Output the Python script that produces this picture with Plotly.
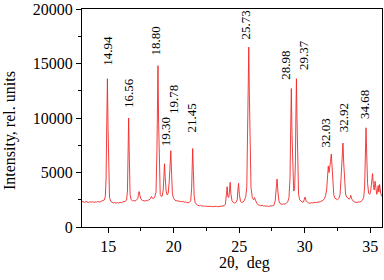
import plotly.graph_objects as go

# XRD pattern (2theta in deg, intensity in rel. units)
two_theta = [
    13.0, 13.1, 13.2, 13.3, 13.4, 13.5, 13.6, 13.7, 13.8, 13.9, 14.0, 14.1, 14.2, 14.3, 14.4, 14.5, 14.6, 14.7, 14.78,
    14.84, 14.89, 14.94, 14.99, 15.04, 15.1, 15.2,
    15.3, 15.4, 15.5, 15.6, 15.7, 15.8, 15.9, 16.0, 16.1, 16.2, 16.3, 16.4, 16.47,
    16.52, 16.56, 16.61, 16.67, 16.75,
    16.85, 16.95, 17.05, 17.15, 17.25, 17.31, 17.36, 17.42, 17.5, 17.6, 17.7, 17.8, 17.9, 18.0, 18.1, 18.2, 18.25, 18.3, 18.36, 18.45, 18.55, 18.65,
    18.72, 18.76, 18.80, 18.85, 18.9, 18.97, 19.05, 19.13, 19.2, 19.25, 19.30, 19.35, 19.42, 19.5, 19.58, 19.66, 19.72, 19.78, 19.84, 19.9, 19.98,
    20.1, 20.2, 20.3, 20.4, 20.5, 20.6, 20.7, 20.8, 20.9, 21.0, 21.1, 21.2, 21.3, 21.37,
    21.41, 21.45, 21.5, 21.56, 21.64,
    21.75, 21.85, 21.95, 22.05, 22.15, 22.25, 22.35, 22.45, 22.55, 22.65, 22.75, 22.85, 22.95, 23.05, 23.15, 23.25, 23.35, 23.45, 23.55, 23.65, 23.75, 23.85, 23.95,
    24.03, 24.08, 24.13, 24.2, 24.26, 24.31, 24.37, 24.45, 24.55, 24.65, 24.75, 24.85, 24.9, 24.95, 25.01, 25.1, 25.2, 25.3, 25.4, 25.5,
    25.58, 25.64, 25.69, 25.73, 25.77, 25.82, 25.9, 26.0, 26.1, 26.17, 26.25, 26.35,
    26.45, 26.55, 26.65, 26.75, 26.85, 26.95, 27.05, 27.15, 27.25, 27.35, 27.45, 27.55, 27.65, 27.75, 27.83, 27.89, 27.95, 28.03, 28.12,
    28.2, 28.3, 28.4, 28.5, 28.6, 28.7, 28.8, 28.88, 28.93, 28.98, 29.03, 29.09, 29.16, 29.23, 29.29, 29.33, 29.37, 29.41, 29.46, 29.53, 29.62,
    29.7, 29.8, 29.9, 29.97, 30.03, 30.1, 30.2, 30.3, 30.4, 30.5, 30.6, 30.7, 30.8, 30.9, 31.0, 31.1, 31.2, 31.3, 31.4, 31.5, 31.6,
    31.68, 31.75, 31.8, 31.86, 31.92, 31.97, 32.03, 32.08, 32.14, 32.22, 32.3, 32.4, 32.5, 32.6, 32.7, 32.78, 32.85, 32.92, 32.98, 33.05, 33.12,
    33.2, 33.3, 33.4, 33.47, 33.52, 33.58, 33.68, 33.8, 33.9, 34.0, 34.1, 34.2, 34.3, 34.4, 34.5, 34.57, 34.63, 34.68, 34.73, 34.8, 34.88,
    34.96, 35.04, 35.12, 35.18, 35.24, 35.3, 35.37, 35.43, 35.5, 35.56, 35.61, 35.66, 35.72, 35.8, 35.9,
]
intensity = [
    2350, 2300, 2270, 2330, 2290, 2250, 2310, 2270, 2320, 2260, 2300, 2280, 2340, 2290, 2320, 2360, 2400, 2480, 2800,
    4500, 9500, 13600, 9000, 4200, 2700, 2350,
    2250, 2200, 2260, 2180, 2240, 2200, 2260, 2230, 2290, 2300, 2360, 2450, 3300,
    7000, 10000, 6500, 3000, 2500,
    2400, 2430, 2380, 2460, 2600, 2950, 3250, 2900, 2550, 2450, 2420, 2380, 2440, 2400, 2480, 2560, 2700, 2800, 2650, 2600, 2750, 3200,
    7000, 11500, 14800, 9500, 4500, 3000, 2800, 2850, 3400, 4700, 5800, 4600, 3300, 2950, 3100, 4200, 5600, 7000, 4800, 3100, 2650,
    2450, 2420, 2380, 2400, 2350, 2320, 2360, 2280, 2300, 2250, 2220, 2260, 2400, 3600,
    5800, 7200, 5200, 2900, 2200,
    2050, 1980, 1950, 1990, 1920, 1940, 1890, 1930, 1880, 1910, 1870, 1900, 1860, 1890, 1870, 1900, 1860, 1880, 1870, 1900, 1880, 1950, 2100,
    2800, 3700, 2800, 2700, 3300, 4100, 3000, 2400, 2250, 2200, 2250, 2500, 3400, 4000, 3000, 2350, 2250, 2300, 2450, 2800,
    3700, 7500, 13000, 16500, 12500, 6500, 3600, 2700, 2500, 2700, 2350, 2150,
    2050, 1980, 1950, 1990, 1930, 1950, 1900, 1940, 1880, 1920, 1900, 1950, 2000, 2400, 3600, 4400, 3300, 2400, 2150,
    2100, 2080, 2120, 2100, 2180, 2300, 2700, 4500, 9000, 12700, 8500, 4200, 3300, 3500, 6000, 10500, 13600, 10000, 5500, 3000, 2500,
    2350, 2280, 2300, 2500, 2750, 2400, 2250, 2200, 2180, 2230, 2200, 2260, 2240, 2280, 2250, 2300, 2320, 2380, 2450, 2600, 2900,
    3500, 4600, 5600, 5000, 5400, 6000, 6700, 5400, 3800, 2950, 2650, 2550, 2500, 2600, 3000, 4600, 6500, 7700, 5800, 3800, 3000,
    2750, 2600, 2550, 2700, 2900, 2600, 2400, 2300, 2280, 2250, 2300, 2280, 2350, 2450, 2700, 3600, 6500, 9100, 6800, 4000, 3100,
    3000, 3300, 4400, 4900, 3900, 3400, 4200, 3600, 3000, 3400, 3800, 3200, 3900, 3100, 2800,
]

# Peak labels
peak_labels = ["14.94", "16.56", "18.80", "19.30", "19.78", "21.45",
               "25.73", "28.98", "29.37", "32.03", "32.92", "34.68"]
label_x = [14.98, 16.55, 18.65, 19.36, 20.0, 21.37,
           25.47, 28.52, 29.85, 31.57, 32.96, 34.62]
label_y = [14600, 10700, 15500, 7200, 10200, 8500,
           17000, 13300, 14200, 7100, 8500, 9700]

x_ticks = [15, 20, 25, 30, 35]
y_ticks = [0, 5000, 10000, 15000, 20000]

FONT = "Liberation Serif, Times New Roman, serif"

fig = go.Figure()
fig.add_trace(go.Scatter(
    x=two_theta, y=intensity, mode="lines",
    line=dict(color="#f02828", width=0.9),
    hoverinfo="skip", showlegend=False,
))

for t, lx, ly in zip(peak_labels, label_x, label_y):
    fig.add_annotation(
        x=lx, y=ly, xref="x", yref="y", text=t, textangle=-90,
        showarrow=False, xanchor="center", yanchor="bottom",
        font=dict(family=FONT, size=13, color="black"),
    )

fig.add_annotation(
    x=0.54, y=-0.165, xref="paper", yref="paper", text="2θ,\u00a0 deg",
    showarrow=False, xanchor="center", yanchor="middle",
    font=dict(family=FONT, size=16, color="black"),
)
fig.add_annotation(
    x=-0.24, y=0.44, xref="paper", yref="paper", text="Intensity, rel. units",
    textangle=-90, showarrow=False, xanchor="center", yanchor="middle",
    font=dict(family=FONT, size=16, color="black"),
)

axis_common = dict(
    showgrid=False, zeroline=False, showline=True, linecolor="black", linewidth=1,
    mirror=True, ticks="outside", tickcolor="black", tickwidth=1, ticklen=5,
    tickfont=dict(family=FONT, size=16, color="black"),
)
fig.update_xaxes(
    range=[13, 35.9], tickvals=x_ticks, ticktext=[str(v) for v in x_ticks],
    minor=dict(dtick=2.5, tick0=0, ticks="outside", ticklen=3, tickcolor="black", showgrid=False),
    **axis_common,
)
fig.update_yaxes(
    range=[0, 20000], tickvals=y_ticks, ticktext=[str(v) for v in y_ticks],
    minor=dict(dtick=2500, tick0=0, ticks="outside", ticklen=3, tickcolor="black", showgrid=False),
    **axis_common,
)

fig.update_layout(
    width=384, height=280,
    margin=dict(l=82, r=2, t=9, b=53),
    paper_bgcolor="white", plot_bgcolor="white",
    showlegend=False,
)

fig.write_html(
    "out.html",
    config={"displayModeBar": False},
    post_script="document.body.style.margin='0';document.body.style.padding='0';",
)
